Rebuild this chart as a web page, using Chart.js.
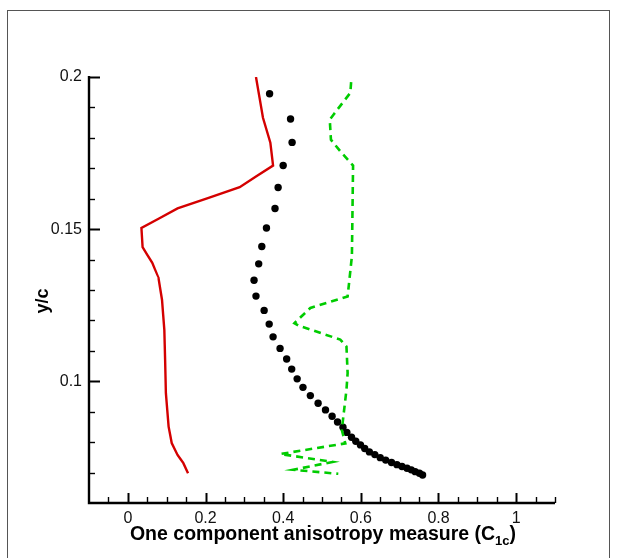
<!DOCTYPE html>
<html>
<head>
<meta charset="utf-8">
<script src="https://cdn.jsdelivr.net/npm/chart.js@4.4.0/dist/chart.umd.min.js"></script>
<style>
  html, body { margin: 0; padding: 0; background: #fff; }
  #wrap { position: relative; width: 621px; height: 558px; overflow: hidden; }
  #frame { position: absolute; left: 7px; top: 10px; width: 603px; height: 600px;
           border: 1px solid #555; box-sizing: border-box; }
  canvas { position: absolute; left: 0; top: 0; }
</style>
</head>
<body>
<div id="wrap">
  <div id="frame"></div>
  <canvas id="chart" width="621" height="558"></canvas>
</div>
<script>
// Axis ranges and tick labels
const xMin = -0.1, xMax = 1.1;
const yMin = 0.06, yMax = 0.2;
const xTicks = [0, 0.2, 0.4, 0.6, 0.8, 1];
const xTickLabels = ['0', '0.2', '0.4', '0.6', '0.8', '1'];
const yTicks = [0.1, 0.15, 0.2];
const yTickLabels = ['0.1', '0.15', '0.2'];
const xMinorStep = 0.05;
const yMinorStep = 0.01;

// Series 1: dotted profile (black circles)
const dotX = [0.365, 0.419, 0.423, 0.400, 0.387, 0.379, 0.357, 0.345, 0.337, 0.325,
              0.330, 0.351, 0.364, 0.374, 0.392, 0.409, 0.422, 0.436, 0.451, 0.470,
              0.490, 0.509, 0.526, 0.540, 0.554, 0.564, 0.576, 0.587, 0.599, 0.610,
              0.622, 0.636, 0.650, 0.664, 0.679, 0.693, 0.706, 0.719, 0.730, 0.740,
              0.751, 0.759];
const dotY = [0.1945, 0.1862, 0.1785, 0.1709, 0.1637, 0.1568, 0.1504, 0.1443, 0.1386, 0.1332,
              0.1280, 0.1233, 0.1188, 0.1146, 0.1108, 0.1073, 0.1040, 0.1008, 0.0980, 0.0953,
              0.0928, 0.0906, 0.0885, 0.0866, 0.0849, 0.0832, 0.0816, 0.0803, 0.0791, 0.0779,
              0.0768, 0.0759, 0.0749, 0.0741, 0.0733, 0.0726, 0.0720, 0.0714, 0.0709, 0.0703,
              0.0698, 0.0692];

// Series 2: solid red profile
const redX = [0.330, 0.348, 0.367, 0.374, 0.288, 0.128, 0.035, 0.038, 0.063, 0.079,
              0.088, 0.094, 0.096, 0.098, 0.105, 0.113, 0.128, 0.143, 0.155];
const redY = [0.2000, 0.1866, 0.1784, 0.1709, 0.1638, 0.1568, 0.1504, 0.1441, 0.1389, 0.1339,
              0.1268, 0.1169, 0.1071, 0.0961, 0.0851, 0.0797, 0.0758, 0.0731, 0.0698];

// Series 3: dashed green profile
const greenX = [0.575, 0.573, 0.530, 0.520, 0.523, 0.547, 0.580, 0.577, 0.566, 0.470,
                0.429, 0.440, 0.547, 0.563, 0.566, 0.563, 0.551, 0.560, 0.393, 0.527,
                0.426, 0.542];
const greenY = [0.1983, 0.1948, 0.1877, 0.1860, 0.1794, 0.1756, 0.1709, 0.1411, 0.1279, 0.1241,
                0.1191, 0.1183, 0.1137, 0.1114, 0.1027, 0.0972, 0.0840, 0.0796, 0.0761, 0.0735,
                0.0709, 0.0696];

const pts = (xs, ys) => xs.map((v, i) => ({ x: v, y: ys[i] }));

const FONT = '"Liberation Sans", Arial, sans-serif';

// Inward tick marks, axis lines and the two axis titles
const axesPlugin = {
  id: 'axesPlugin',
  afterDraw(chart) {
    const ctx = chart.ctx;
    const sx = chart.scales.x, sy = chart.scales.y;
    const left = sx.getPixelForValue(xMin);
    const right = sx.getPixelForValue(xMax);
    const top = sy.getPixelForValue(yMax);
    const bottom = sy.getPixelForValue(yMin);
    const near = (a, b) => Math.abs(a - b) < 1e-6;
    ctx.save();
    ctx.strokeStyle = '#000';
    ctx.lineCap = 'butt';
    // x ticks
    for (let k = Math.round(xMin / xMinorStep) + 1; k <= Math.round(xMax / xMinorStep); k++) {
      const v = k * xMinorStep;
      const major = xTicks.some(t => near(t, v));
      const px = Math.round(sx.getPixelForValue(v)) + 0.5;
      ctx.beginPath();
      ctx.moveTo(px, bottom);
      ctx.lineTo(px, bottom - (major ? 10 : 6));
      ctx.lineWidth = major ? 2 : 1.4;
      ctx.stroke();
    }
    // y ticks
    for (let k = Math.round(yMin / yMinorStep) + 1; k <= Math.round(yMax / yMinorStep); k++) {
      const v = k * yMinorStep;
      const major = yTicks.some(t => near(t, v));
      const py = Math.round(sy.getPixelForValue(v)) + 0.5;
      ctx.beginPath();
      ctx.moveTo(left, py);
      ctx.lineTo(left + (major ? 11 : 6), py);
      ctx.lineWidth = major ? 2 : 1.4;
      ctx.stroke();
    }
    // axis lines
    ctx.lineWidth = 2.4;
    ctx.beginPath();
    ctx.moveTo(left, top - 1);
    ctx.lineTo(left, bottom);
    ctx.lineTo(right, bottom);
    ctx.stroke();

    // x title with subscript
    ctx.fillStyle = '#000';
    ctx.textBaseline = 'alphabetic';
    const main = 'One component anisotropy measure (C';
    const sub = '1c';
    const tail = ')';
    const fMain = 'bold 19.5px ' + FONT;
    const fSub = 'bold 13px ' + FONT;
    ctx.font = fMain;
    const wMain = ctx.measureText(main).width;
    const wTail = ctx.measureText(tail).width;
    ctx.font = fSub;
    const wSub = ctx.measureText(sub).width;
    const total = wMain + wSub + wTail;
    let tx = 323 - total / 2;
    const base = 540;
    ctx.font = fMain;
    ctx.textAlign = 'left';
    ctx.fillText(main, tx, base);
    tx += wMain;
    ctx.font = fSub;
    ctx.fillText(sub, tx, base + 5);
    tx += wSub;
    ctx.font = fMain;
    ctx.fillText(tail, tx, base);

    // y title
    ctx.save();
    ctx.translate(48, 301);
    ctx.rotate(-Math.PI / 2);
    ctx.font = 'bold 18px ' + FONT;
    ctx.textAlign = 'center';
    ctx.textBaseline = 'alphabetic';
    ctx.fillText('y/c', 0, 0);
    ctx.restore();
    ctx.restore();
  }
};

new Chart(document.getElementById('chart'), {
  type: 'scatter',
  data: {
    datasets: [
      {
        label: 'red',
        data: pts(redX, redY),
        showLine: true,
        borderColor: '#d40000',
        borderWidth: 2.4,
        borderJoinStyle: 'miter',
        pointRadius: 0,
        // a tiny tension keeps segments straight while avoiding the x-sorted fast path
        tension: 0.000001,
        fill: false
      },
      {
        label: 'green',
        data: pts(greenX, greenY),
        showLine: true,
        borderColor: '#00cc00',
        borderWidth: 2.6,
        borderDash: [7, 5],
        pointRadius: 0,
        tension: 0,
        fill: false
      },
      {
        label: 'dots',
        data: pts(dotX, dotY),
        showLine: false,
        backgroundColor: '#000',
        borderColor: '#000',
        borderWidth: 0,
        pointRadius: 3.7
      }
    ]
  },
  options: {
    responsive: false,
    animation: false,
    devicePixelRatio: 1,
    layout: { padding: { top: 77, right: 66, left: 0, bottom: 0 } },
    plugins: { legend: { display: false }, tooltip: { enabled: false } },
    scales: {
      x: {
        type: 'linear',
        min: xMin, max: xMax,
        grid: { display: false, drawTicks: false },
        border: { display: false },
        afterBuildTicks: s => { s.ticks = xTicks.map(v => ({ value: v })); },
        afterFit: s => { s.height = 55; },
        ticks: {
          padding: 6,
          color: '#111',
          font: { family: FONT, size: 16 },
          maxRotation: 0,
          callback: (v) => {
            const i = xTicks.findIndex(t => Math.abs(t - v) < 1e-6);
            return i >= 0 ? xTickLabels[i] : '';
          }
        }
      },
      y: {
        type: 'linear',
        min: yMin, max: yMax,
        grid: { display: false, drawTicks: false },
        border: { display: false },
        afterBuildTicks: s => { s.ticks = yTicks.map(v => ({ value: v })); },
        afterFit: s => { s.width = 89; },
        ticks: {
          padding: 7,
          color: '#111',
          font: { family: FONT, size: 16 },
          callback: (v) => {
            const i = yTicks.findIndex(t => Math.abs(t - v) < 1e-6);
            return i >= 0 ? yTickLabels[i] : '';
          }
        }
      }
    }
  },
  plugins: [axesPlugin]
});
</script>
</body>
</html>
